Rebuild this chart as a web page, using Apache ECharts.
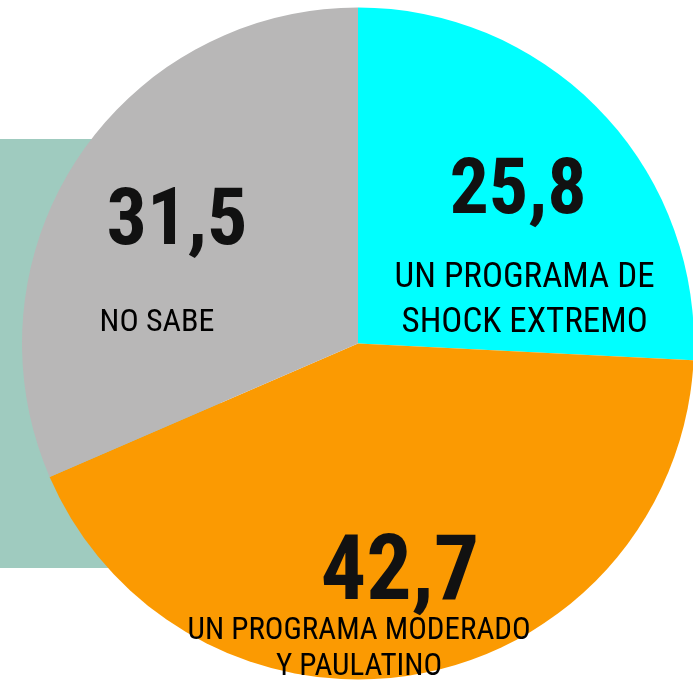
<!DOCTYPE html>
<html>
<head>
<meta charset="utf-8">
<script src="https://cdn.jsdelivr.net/npm/echarts@6/dist/echarts.min.js"></script>
<style>
html,body{margin:0;padding:0;background:#fff;}
#chart{width:693px;height:680px;}
</style>
</head>
<body>
<div id="chart"></div>
<script>
// Data
var categories = ['UN PROGRAMA DE\nSHOCK EXTREMO', 'UN PROGRAMA MODERADO\nY PAULATINO', 'NO SABE'];
var values = [25.8, 42.7, 31.5];
var valueLabels = ['25,8', '42,7', '31,5'];
var colors = ['#00ffff', '#fb9a02', '#b8b7b7'];

// label styling per slice
var labelStyles = [
  { numSize: 78, txtSize: 35, numLH: 126, txtLH: 44.5, numPad: [0, 13, 0, 0], txtPad: [0, 0, 0, 0], dx: 42.7, dy: 12 },
  { numSize: 90, txtSize: 31, numLH: 72, txtLH: 36, numPad: [0, 0, 0, 82], txtPad: [0, 0, 0, 0], dx: -29.4, dy: 101 },
  { numSize: 80, txtSize: 32, numLH: 163, txtLH: 36, numPad: [0, 0, 0, 0], txtPad: [0, 40, 0, 0], dx: -38.1, dy: -7.7 }
];
var FONT = 'Roboto, "Open Sans", sans-serif';

var chart = echarts.init(document.getElementById('chart'), null, { renderer: 'canvas' });

var data = values.map(function (v, i) {
  var ls = labelStyles[i];
  var lines = categories[i].split('\n').map(function (l) { return '{t|' + l + '}'; });
  return {
    name: categories[i],
    value: v,
    itemStyle: { color: colors[i] },
    label: {
      formatter: '{v|' + valueLabels[i] + '}\n' + lines.join('\n'),
      rich: {
        v: {
          fontFamily: FONT,
          fontStyle: 'condensed',
          fontWeight: 'bold',
          fontSize: ls.numSize,
          lineHeight: ls.numLH,
          color: '#111',
          padding: ls.numPad
        },
        t: {
          fontFamily: FONT,
          fontStyle: 'condensed',
          fontSize: ls.txtSize,
          lineHeight: ls.txtLH,
          color: '#000',
          padding: ls.txtPad
        }
      }
    }
  };
});

chart.setOption({
  animation: false,
  graphic: [{
    type: 'rect',
    z: 0,
    shape: { x: 0, y: 139, width: 220, height: 429 },
    style: { fill: '#9fcbbf' }
  }],
  series: [{
    type: 'pie',
    z: 2,
    center: [358, 343.5],
    radius: [0, 336],
    startAngle: 90,
    clockwise: true,
    silent: true,
    emphasis: { disabled: true },
    itemStyle: { borderWidth: 0 },
    label: { show: true, position: 'inside', align: 'center', verticalAlign: 'middle' },
    labelLine: { show: false },
    labelLayout: function (params) {
      var ls = labelStyles[params.dataIndex];
      return { dx: ls.dx, dy: ls.dy };
    },
    data: data
  }]
});
</script>
</body>
</html>
